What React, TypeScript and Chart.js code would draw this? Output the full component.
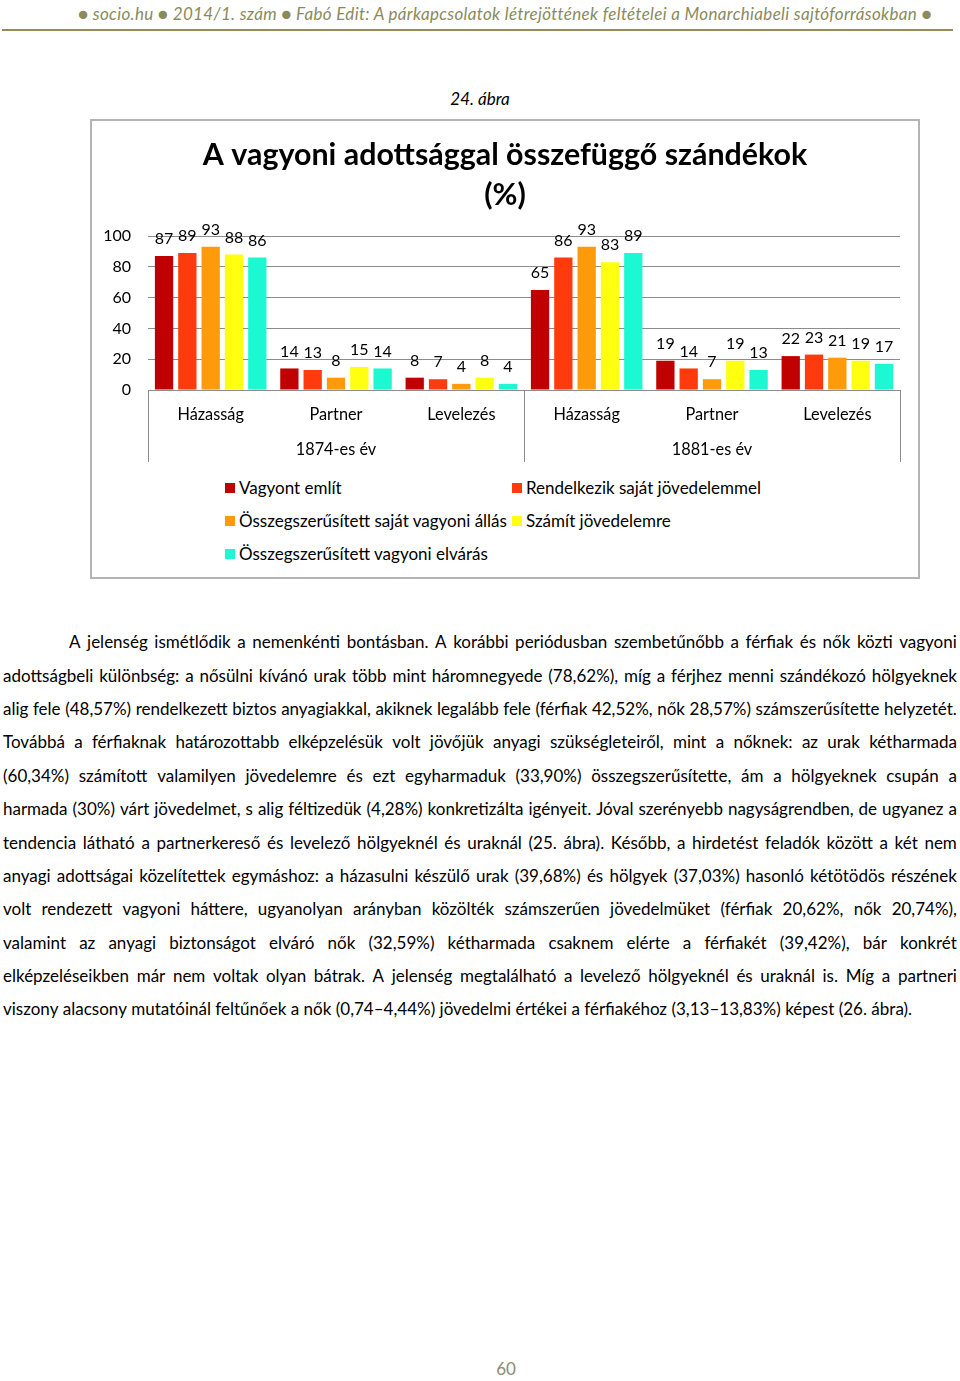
import React, { useEffect, useLayoutEffect, useRef } from 'react';
import { Chart, registerables } from 'chart.js';

Chart.register(...registerables);

// ---- data ----
const categories = ['Házasság', 'Partner', 'Levelezés', 'Házasság', 'Partner', 'Levelezés'];
const groupLabels = ['1874-es év', '1881-es év'];
const seriesNames = [
  'Vagyont említ',
  'Rendelkezik saját jövedelemmel',
  'Összegszerűsített saját vagyoni állás',
  'Számít jövedelemre',
  'Összegszerűsített vagyoni elvárás',
];
const vagyontEmlit = [87, 14, 8, 65, 19, 22];
const sajatJovedelem = [89, 13, 7, 86, 14, 23];
const sajatVagyoniAllas = [93, 8, 4, 93, 7, 21];
const szamitJovedelemre = [88, 15, 8, 83, 19, 19];
const vagyoniElvaras = [86, 14, 4, 89, 13, 17];
const seriesValues = [vagyontEmlit, sajatJovedelem, sajatVagyoniAllas, szamitJovedelemre, vagyoniElvaras];
const seriesColors = ['#C00000', '#FF3A0C', '#FF9A0A', '#FFFF10', '#1CF8D2'];
const yMin = 0;
const yMax = 100;
const yStep = 20;

const chartTitle = ['A vagyoni adottsággal összefüggő szándékok', '(%)'];

const headerText =
  '● socio.hu ● 2014/1. szám ● Fabó Edit: A párkapcsolatok létrejöttének feltételei a Monarchiabeli sajtóforrásokban ●';
const figureCaption = '24. ábra';
const pageNumber = '60';

const paragraphLines = [
  'A jelenség ismétlődik a nemenkénti bontásban. A korábbi periódusban szembetűnőbb a férfiak és nők közti vagyoni',
  'adottságbeli különbség: a nősülni kívánó urak több mint háromnegyede (78,62%), míg a férjhez menni szándékozó hölgyeknek',
  'alig fele (48,57%) rendelkezett biztos anyagiakkal, akiknek legalább fele (férfiak 42,52%, nők 28,57%) számszerűsítette helyzetét.',
  'Továbbá a férfiaknak határozottabb elképzelésük volt jövőjük anyagi szükségleteiről, mint a nőknek: az urak kétharmada',
  '(60,34%) számított valamilyen jövedelemre és ezt egyharmaduk (33,90%) összegszerűsítette, ám a hölgyeknek csupán a',
  'harmada (30%) várt jövedelmet, s alig féltizedük (4,28%) konkretizálta igényeit. Jóval szerényebb nagyságrendben, de ugyanez a',
  'tendencia látható a partnerkereső és levelező hölgyeknél és uraknál (25. ábra). Később, a hirdetést feladók között a két nem',
  'anyagi adottságai közelítettek egymáshoz: a házasulni készülő urak (39,68%) és hölgyek (37,03%) hasonló kétötödös részének',
  'volt rendezett vagyoni háttere, ugyanolyan arányban közölték számszerűen jövedelmüket (férfiak 20,62%, nők 20,74%),',
  'valamint az anyagi biztonságot elváró nők (32,59%) kétharmada csaknem elérte a férfiakét (39,42%), bár konkrét',
  'elképzeléseikben már nem voltak olyan bátrak. A jelenség megtalálható a levelező hölgyeknél és uraknál is. Míg a partneri',
  'viszony alacsony mutatóinál feltűnőek a nők (0,74–4,44%) jövedelmi értékei a férfiakéhoz (3,13–13,83%) képest (26. ábra).',
];

const FONT = 'Lato, "Open Sans", sans-serif';

const dataLabelPlugin = {
  id: 'dataLabels',
  afterDatasetsDraw(chart: any) {
    const ctx = chart.ctx;
    ctx.save();
    ctx.font = `16px ${FONT}`;
    ctx.fillStyle = '#000';
    ctx.textAlign = 'center';
    ctx.textBaseline = 'middle';
    chart.data.datasets.forEach((ds: any, i: number) => {
      const meta = chart.getDatasetMeta(i);
      meta.data.forEach((el: any, j: number) => {
        ctx.fillText(String(ds.data[j]), el.x, el.y - 17);
      });
    });
    ctx.restore();
  },
};

const groupSeparatorPlugin = {
  id: 'groupSeparators',
  afterDraw(chart: any) {
    const a = chart.chartArea;
    const xs = chart.scales.x;
    const x2 = chart.scales.x2;
    const mid = (xs.getPixelForValue(2) + xs.getPixelForValue(3)) / 2;
    const ctx = chart.ctx;
    ctx.save();
    ctx.strokeStyle = '#8c8c8c';
    ctx.lineWidth = 1;
    [a.left, mid, a.right].forEach((px) => {
      const x = Math.round(px) + 0.5;
      ctx.beginPath();
      ctx.moveTo(x, a.bottom);
      ctx.lineTo(x, x2.bottom - 3);
      ctx.stroke();
    });
    ctx.restore();
  },
};

function BarChart() {
  const ref = useRef<HTMLCanvasElement | null>(null);
  useEffect(() => {
    if (!ref.current) return;
    const chart = new Chart(ref.current, {
      type: 'bar',
      data: {
        labels: categories,
        datasets: seriesNames.map((name, i) => ({
          label: name,
          data: seriesValues[i],
          backgroundColor: seriesColors[i],
          borderWidth: 0,
          categoryPercentage: 0.93,
          barPercentage: 0.785,
          xAxisID: 'x',
          yAxisID: 'y',
        })),
      },
      options: {
        responsive: false,
        maintainAspectRatio: false,
        animation: false,
        layout: { padding: 0 },
        plugins: {
          legend: { display: false },
          tooltip: { enabled: false },
          title: {
            display: true,
            text: chartTitle,
            color: '#000',
            font: { family: FONT, size: 30.4, weight: 'bold', lineHeight: 40 / 30.4 },
            padding: { top: 14, bottom: 21 },
          },
        },
        scales: {
          x: {
            type: 'category',
            position: 'bottom',
            offset: true,
            grid: { display: false, drawTicks: false },
            border: { display: false },
            ticks: { color: '#000', font: { family: FONT, size: 16.3 }, padding: 15, autoSkip: false, maxRotation: 0 },
            afterFit: (s: any) => {
              s.height = 40;
            },
          },
          x2: {
            type: 'category',
            labels: groupLabels,
            position: 'bottom',
            offset: true,
            grid: { display: false, drawTicks: false },
            border: { display: false },
            ticks: { color: '#000', font: { family: FONT, size: 16.3 }, padding: 10, autoSkip: false, maxRotation: 0 },
            afterFit: (s: any) => {
              s.height = 35;
            },
          },
          y: {
            min: yMin,
            max: yMax,
            ticks: { stepSize: yStep, color: '#000', font: { family: FONT, size: 16 }, padding: 17 },
            grid: { color: '#8c8c8c', lineWidth: 1, drawTicks: false },
            border: { display: false },
            afterFit: (s: any) => {
              s.width = 56;
            },
          },
          yRightSpace: {
            type: 'linear',
            position: 'right',
            display: true,
            grid: { display: false, drawTicks: false },
            border: { display: false },
            ticks: { display: false },
            afterFit: (s: any) => {
              s.width = 18;
            },
          },
        },
      } as any,
      plugins: [dataLabelPlugin, groupSeparatorPlugin],
    });
    return () => chart.destroy();
  }, []);
  return <canvas ref={ref} width={826} height={344} style={{ position: 'absolute', left: 0, top: 0, width: 826, height: 344 }} />;
}

function TextLine(props: { text: string; left: number; width: number; top: number; justify: boolean }) {
  const { text, left, width, top, justify } = props;
  const ref = useRef<HTMLDivElement | null>(null);
  useLayoutEffect(() => {
    const el = ref.current;
    if (!el || !justify) return;
    const spans = Array.from(el.children) as HTMLElement[];
    const total = spans.reduce((s, sp) => s + sp.getBoundingClientRect().width, 0);
    const minGap = 3.6;
    const need = total + minGap * (spans.length - 1);
    if (need > width) {
      const chars = text.replace(/ /g, '').length;
      el.style.letterSpacing = `${(width - need) / chars}px`;
    }
  }, []);
  const words = text.split(' ');
  return (
    <div
      ref={ref}
      style={{
        position: 'absolute',
        left,
        width,
        top,
        height: 22,
        fontSize: 17,
        lineHeight: '22px',
        whiteSpace: 'nowrap',
        display: 'flex',
        justifyContent: justify ? 'space-between' : 'flex-start',
        gap: justify ? 0 : '0.26em',
      }}
    >
      {words.map((w, i) => (
        <span key={i}>{w}</span>
      ))}
    </div>
  );
}

export default function App() {
  const legendPos = [
    { left: 225, cy: 488 },
    { left: 512, cy: 488 },
    { left: 225, cy: 521 },
    { left: 512, cy: 521 },
    { left: 225, cy: 554 },
  ];
  const lineCenters = [642, 676, 709, 742, 776, 809, 843, 876, 909, 943, 976, 1009];
  return (
    <div style={{ position: 'absolute', left: 0, top: 0, width: 960, height: 1381, background: '#fff', fontFamily: FONT, color: '#000', overflow: 'hidden' }}>
      <div style={{ position: 'absolute', left: 78, top: 3, fontSize: 17, lineHeight: '22px', fontStyle: 'italic', color: '#8a8a5c', whiteSpace: 'nowrap', letterSpacing: '0.33px' }}>
        {headerText}
      </div>
      <div style={{ position: 'absolute', left: 2, top: 29, width: 951, height: 2, background: '#968c58' }} />
      <div style={{ position: 'absolute', left: 0, top: 88, width: 960, textAlign: 'center', fontSize: 17, lineHeight: '22px', fontStyle: 'italic' }}>
        {figureCaption}
      </div>
      <div style={{ position: 'absolute', left: 90, top: 119, width: 830, height: 460, boxSizing: 'border-box', border: '2px solid #b4b4b4' }}>
        <BarChart />
      </div>
      {seriesNames.map((name, i) => (
        <div key={name} style={{ position: 'absolute', left: legendPos[i].left, top: legendPos[i].cy - 11, height: 22, lineHeight: '22px', fontSize: 17, whiteSpace: 'nowrap', display: 'flex', alignItems: 'center' }}>
          <span style={{ display: 'inline-block', width: 10, height: 10, background: seriesColors[i], marginRight: 4 }} />
          <span>{name}</span>
        </div>
      ))}
      {paragraphLines.map((line, i) => (
        <TextLine
          key={i}
          text={line}
          left={i === 0 ? 69 : 3}
          width={i === 0 ? 888 : 954}
          top={lineCenters[i] - 11}
          justify={i !== paragraphLines.length - 1}
        />
      ))}
      <div style={{ position: 'absolute', left: 476, top: 1358, width: 60, textAlign: 'center', fontSize: 17, lineHeight: '22px', color: '#8b8b73' }}>
        {pageNumber}
      </div>
    </div>
  );
}
